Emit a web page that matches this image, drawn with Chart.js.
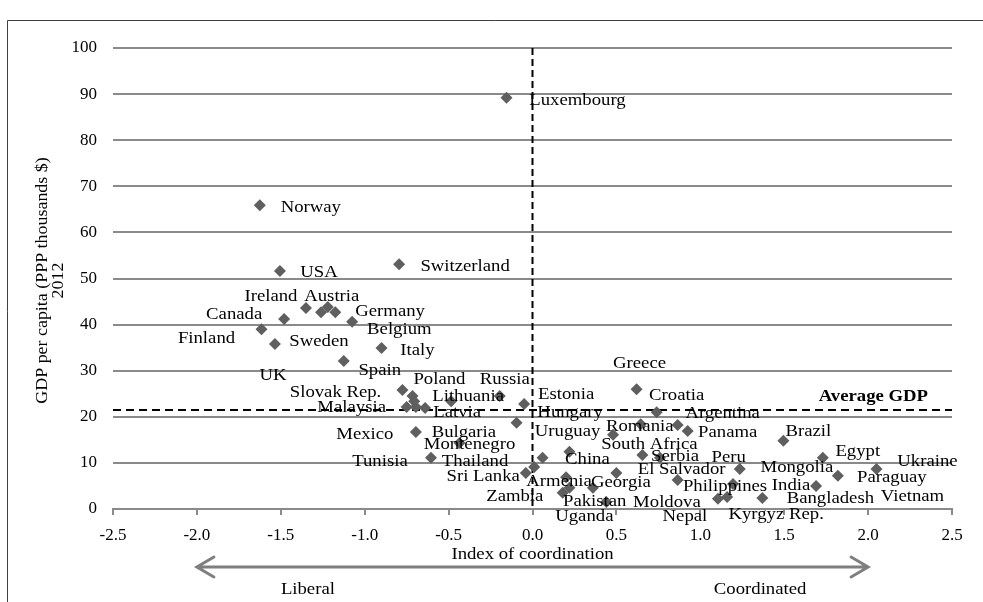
<!DOCTYPE html>
<html>
<head>
<meta charset="utf-8">
<script src="https://cdn.jsdelivr.net/npm/chart.js@4.4.0/dist/chart.umd.min.js"></script>
<style>
  html, body { margin: 0; padding: 0; background: #fff; }
  canvas { display: block; }
</style>
</head>
<body>
<canvas id="my_chart" width="983" height="602"></canvas>
<script>
// values
const countries = [
    'Luxembourg', 'Norway', 'USA', 'Switzerland', 'Ireland', 'Austria', 'UK', 'Belgium',
    'Canada', 'Germany', 'Finland', 'Sweden', 'Italy', 'Spain', 'Poland', 'Slovak Rep.',
    'Malaysia', '', '', 'Latvia', 'Lithuania', 'Russia', 'Estonia', 'Uruguay',
    'Bulgaria', 'Montenegro', 'Thailand', 'Sri Lanka', 'Zambia', 'China', '', 'Armenia',
    '', 'Pakistan', 'Georgia', 'Uganda', '', 'Greece', 'Croatia', 'Romania',
    '', 'Argentina', 'Panama', 'South Africa', 'Serbia', 'El Salvador', 'Peru', 'Brazil',
    'Egypt', 'Mongolia', 'Ukraine', 'Philippines', 'India', 'Nepal', 'Kyrgyz Rep.', 'Bangladesh'
];
const coordIndex = [
    -0.155, -1.625, -1.505, -0.795, -1.35, -1.22, -1.26, -1.175,
    -1.48, -1.075, -1.615, -1.535, -0.90, -1.125, -0.775, -0.715,
    -0.75, -0.705, -0.695, -0.64, -0.485, -0.195, -0.05, -0.095,
    -0.695, -0.435, -0.605, 0.01, -0.04, 0.22, 0.06, 0.20,
    0.22, 0.18, 0.36, 0.44, 0.50, 0.62, 0.74, 0.645,
    0.48, 0.865, 0.925, 0.655, 0.76, 0.865, 1.235, 1.495,
    1.73, 1.82, 2.05, 1.195, 1.69, 1.105, 1.16, 1.37
];
const gdpPerCapita = [
    89.2, 65.9, 51.6, 53.1, 43.6, 43.8, 42.7, 42.7,
    41.2, 40.6, 39.0, 35.8, 34.9, 32.1, 25.8, 24.5,
    22.1, 23.4, 22.1, 21.9, 23.4, 24.5, 22.8, 18.7,
    16.7, 14.3, 11.1, 9.1, 7.8, 12.4, 11.1, 6.9,
    4.6, 3.5, 4.6, 1.5, 7.8, 26.0, 21.0, 18.4,
    16.1, 18.2, 16.9, 11.7, 11.1, 6.3, 8.7, 14.8,
    11.1, 7.2, 8.7, 5.4, 5.0, 2.2, 2.6, 2.4
];
const averageGdp = 21.5;
const xRange = [-2.5, 2.5];
const yRange = [0, 100];

// where each country name sits relative to its marker (pixels)
const labelOffsets = {
    'Luxembourg': [71, 3], 'Norway': [51, 3], 'USA': [39, 2], 'Switzerland': [66, 3],
    'Ireland': [-35, -11], 'Austria': [4, -10], 'UK': [-48, 64], 'Belgium': [64, 18],
    'Canada': [-50, -4], 'Germany': [38, -10], 'Finland': [-55, 10], 'Sweden': [44, -2],
    'Italy': [36, 3], 'Spain': [36, 10], 'Poland': [37, -10], 'Slovak Rep.': [-77, -3],
    'Malaysia': [-55, 1], 'Latvia': [32, 5], 'Lithuania': [17, -4], 'Russia': [5, -16],
    'Estonia': [42, -9], 'Uruguay': [51, 9], 'Bulgaria': [48, 1], 'Montenegro': [10, 2],
    'Thailand': [44, 4], 'Sri Lanka': [-51, 10], 'Zambia': [-11, 24], 'China': [18, 8],
    'Armenia': [-7, 5], 'Pakistan': [32, 9], 'Georgia': [28, -5], 'Uganda': [-22, 15],
    'Greece': [3, -25], 'Croatia': [20, -16], 'Romania': [-1, 3], 'Argentina': [45, -11],
    'Panama': [40, 2], 'South Africa': [7, -10], 'Serbia': [15, -1], 'El Salvador': [4, -10],
    'Peru': [-11, -11], 'Brazil': [25, -9], 'Egypt': [35, -6], 'Mongolia': [-41, -8],
    'Ukraine': [51, -7], 'Philippines': [-8, 3], 'India': [-25, 0], 'Nepal': [-33, 18],
    'Kyrgyz Rep.': [49, 18], 'Bangladesh': [68, 1]
};
// names placed next to a marker they share with another country
const sharedLabels = [
    ['Mexico', 'Bulgaria', -51, 3],
    ['Tunisia', 'Thailand', -51, 4],
    ['Hungary', 'Estonia', 46, 9],
    ['Paraguay', 'Mongolia', 54, 2],
    ['Vietnam', 'Ukraine', 36, 28],
    ['Moldova', 'Nepal', -51, 4]
];

const SERIF = "'Liberation Serif', 'Times New Roman', serif";
const STRETCH = 1.17;

function draw_text(ctx, text, x, y, align, font, stretch) {
    ctx.save();
    ctx.translate(x, y);
    ctx.scale(stretch || STRETCH, 1);
    ctx.font = font || ('16px ' + SERIF);
    ctx.fillStyle = '#000';
    ctx.textAlign = align || 'center';
    ctx.textBaseline = 'middle';
    ctx.fillText(text, 0, 0);
    ctx.restore();
}

const points = countries.map((c, i) => ({ x: coordIndex[i], y: gdpPerCapita[i] }));

const decorations = {
    id: 'decorations',
    beforeDatasetsDraw(chart) {
        const ctx = chart.ctx;
        const xs = chart.scales.x, ys = chart.scales.y;
        ctx.save();
        ctx.strokeStyle = '#000';
        ctx.lineWidth = 2;
        // average GDP
        ctx.setLineDash([8, 5]);
        ctx.beginPath();
        ctx.moveTo(xs.getPixelForValue(xRange[0]), ys.getPixelForValue(averageGdp));
        ctx.lineTo(xs.getPixelForValue(xRange[1]), ys.getPixelForValue(averageGdp));
        ctx.stroke();
        // zero coordination
        ctx.setLineDash([7, 4]);
        ctx.beginPath();
        ctx.moveTo(xs.getPixelForValue(0), ys.getPixelForValue(yRange[1]));
        ctx.lineTo(xs.getPixelForValue(0), ys.getPixelForValue(yRange[0]));
        ctx.stroke();
        ctx.restore();
    },
    afterDatasetsDraw(chart) {
        const ctx = chart.ctx;
        const xs = chart.scales.x, ys = chart.scales.y;
        const area = chart.chartArea;

        countries.forEach((c, i) => {
            const off = labelOffsets[c];
            if (!c || !off) return;
            draw_text(ctx, c, xs.getPixelForValue(coordIndex[i]) + off[0], ys.getPixelForValue(gdpPerCapita[i]) + off[1]);
        });
        sharedLabels.forEach(([text, at, dx, dy]) => {
            const i = countries.indexOf(at);
            draw_text(ctx, text, xs.getPixelForValue(coordIndex[i]) + dx, ys.getPixelForValue(gdpPerCapita[i]) + dy);
        });

        draw_text(ctx, 'Average GDP', area.right - 24, ys.getPixelForValue(averageGdp) - 13, 'right', 'bold 16px ' + SERIF);

        // axis titles
        const midX = (area.left + area.right) / 2;
        draw_text(ctx, 'Index of coordination', midX, 555);
        const midY = (area.top + area.bottom) / 2 + 2;
        ctx.save();
        ctx.translate(43, midY);
        ctx.rotate(-Math.PI / 2);
        draw_text(ctx, 'GDP per capita (PPP thousands $)', 0, 0, 'center', null, 1.12);
        draw_text(ctx, '2012', 0, 16, 'center', null, 1.12);
        ctx.restore();

        // liberal <-> coordinated arrow
        const ax1 = xs.getPixelForValue(-2), ax2 = xs.getPixelForValue(2), ay = 567;
        ctx.save();
        ctx.strokeStyle = '#7f7f7f';
        ctx.lineWidth = 3;
        ctx.lineCap = 'round';
        ctx.beginPath();
        ctx.moveTo(ax1, ay); ctx.lineTo(ax2, ay);
        ctx.moveTo(ax1 + 17, ay - 10); ctx.lineTo(ax1, ay); ctx.lineTo(ax1 + 17, ay + 10);
        ctx.moveTo(ax2 - 17, ay - 10); ctx.lineTo(ax2, ay); ctx.lineTo(ax2 - 17, ay + 10);
        ctx.stroke();
        ctx.restore();
        draw_text(ctx, 'Liberal', ax1 + 111, 590);
        draw_text(ctx, 'Coordinated', ax2 - 108, 590);

        // outer frame
        ctx.save();
        ctx.strokeStyle = '#404040';
        ctx.lineWidth = 1;
        ctx.beginPath();
        ctx.moveTo(7.5, 602); ctx.lineTo(7.5, 20.5); ctx.lineTo(983, 20.5);
        ctx.stroke();
        ctx.restore();
    }
};

const ctx = document.getElementById('my_chart').getContext('2d');
new Chart(ctx, {
    type: 'scatter',
    data: {
        datasets: [{
            data: points,
            pointStyle: 'rectRot',
            pointRadius: 6,
            pointBackgroundColor: '#5f5f5f',
            pointBorderColor: '#5f5f5f',
            pointBorderWidth: 0
        }]
    },
    options: {
        responsive: false,
        animation: false,
        devicePixelRatio: 1,
        layout: { padding: { top: 48, right: 31, left: 0, bottom: 0 } },
        plugins: { legend: { display: false }, tooltip: { enabled: false } },
        scales: {
            x: {
                type: 'linear',
                min: xRange[0], max: xRange[1],
                afterFit(scale) { scale.height = 93; },
                grid: { drawOnChartArea: false, drawTicks: true, tickLength: 6, color: '#8a8a8a', lineWidth: 2 },
                border: { display: true, color: '#8a8a8a', width: 2 },
                ticks: {
                    stepSize: 0.5,
                    padding: 10,
                    color: '#000',
                    font: { family: SERIF, size: 17 },
                    callback: v => v.toFixed(1)
                }
            },
            y: {
                min: yRange[0], max: yRange[1],
                afterFit(scale) { scale.width = 113; },
                grid: { drawTicks: false, color: '#8a8a8a', lineWidth: 2 },
                border: { display: false },
                ticks: {
                    stepSize: 10,
                    padding: 16,
                    color: '#000',
                    font: { family: SERIF, size: 17 }
                }
            }
        }
    },
    plugins: [decorations]
});
</script>
</body>
</html>
